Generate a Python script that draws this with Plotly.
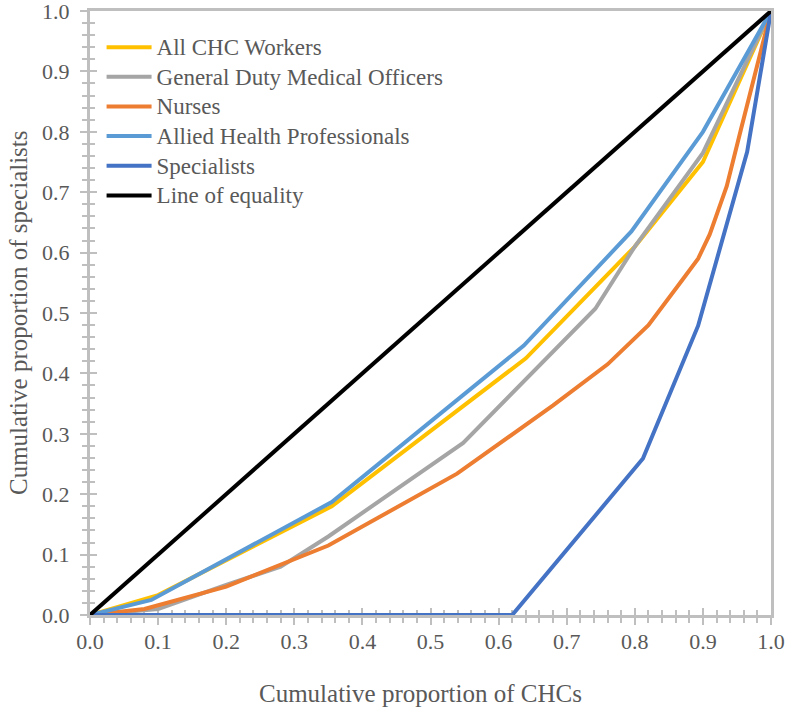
import plotly.graph_objects as go

# Data
all_x = [0, 0.10, 0.355, 0.64, 0.80, 0.90, 1.0]
all_y = [0, 0.033, 0.18, 0.425, 0.61, 0.75, 1.0]

gdmo_x = [0, 0.10, 0.20, 0.28, 0.35, 0.548, 0.742, 0.80, 0.90, 1.0]
gdmo_y = [0, 0.01, 0.05, 0.08, 0.13, 0.285, 0.507, 0.61, 0.765, 1.0]

nurse_x = [0, 0.08, 0.20, 0.28, 0.35, 0.539, 0.68, 0.76, 0.82, 0.87, 0.893, 0.91, 0.935, 0.955, 1.0]
nurse_y = [0, 0.01, 0.047, 0.083, 0.115, 0.234, 0.347, 0.415, 0.48, 0.555, 0.59, 0.63, 0.71, 0.80, 1.0]

ahp_x = [0, 0.09, 0.355, 0.637, 0.795, 0.90, 1.0]
ahp_y = [0, 0.025, 0.187, 0.446, 0.635, 0.80, 1.0]

spec_x = [0, 0.62, 0.812, 0.893, 0.965, 1.0]
spec_y = [0, 0, 0.259, 0.479, 0.767, 1.0]

eq_x = [0, 1.0]
eq_y = [0, 1.0]

tick_vals = [round(i * 0.1, 1) for i in range(11)]
tick_text = [f"{v:.1f}" for v in tick_vals]

x_title = "Cumulative proportion of CHCs"
y_title = "Cumulative proportion of specialists"

series = [
    ("All CHC Workers", all_x, all_y, "#FFC000"),
    ("General Duty Medical Officers", gdmo_x, gdmo_y, "#A5A5A5"),
    ("Nurses", nurse_x, nurse_y, "#ED7D31"),
    ("Allied Health Professionals", ahp_x, ahp_y, "#5B9BD5"),
    ("Specialists", spec_x, spec_y, "#4472C4"),
    ("Line of equality", eq_x, eq_y, "#000000"),
]

fig = go.Figure()
for name, xs, ys, col in series:
    fig.add_trace(go.Scatter(x=xs, y=ys, mode="lines", cliponaxis=False,
                             name=f"<span style='font-size:23px'>{name}</span>",
                             line=dict(color=col, width=4)))

axis_col = "#BFBFBF"
font_fam = "Liberation Serif"
text_col = "#595959"
common = dict(range=[0, 1], tickvals=tick_vals, ticktext=tick_text,
              showgrid=False, zeroline=False, showline=True, automargin=False,
              linecolor=axis_col, linewidth=3, mirror=True, layer="below traces",
              ticks="outside", ticklen=7, tickwidth=2, tickcolor=axis_col,
              ticklabeloverflow="allow",
              minor=dict(dtick=0.02, ticks="outside", ticklen=5, tickwidth=2,
                         tickcolor=axis_col, showgrid=False),
              tickfont=dict(family=font_fam, size=22, color=text_col))

inner = dict(range=[0, 1], showticklabels=False, automargin=False,
             showgrid=False, zeroline=False, showline=False, tickvals=tick_vals,
             layer="below traces",
             ticks="inside", ticklen=7, tickwidth=2, tickcolor=axis_col,
             minor=dict(dtick=0.02, ticks="inside", ticklen=5, tickwidth=2,
                        tickcolor=axis_col, showgrid=False))

fig.update_layout(
    width=787, height=708,
    margin=dict(l=90, r=16, t=11, b=93),
    paper_bgcolor="white", plot_bgcolor="white",
    showlegend=True,
    legend=dict(x=0.017, y=0.973, xanchor="left", yanchor="top",
                bgcolor="rgba(0,0,0,0)", itemwidth=45,
                font=dict(family=font_fam, size=20.5, color=text_col)),
    xaxis=dict(**common, ticklabelstandoff=-2),
    yaxis=dict(**common, ticklabelstandoff=6),
    xaxis2=dict(**inner, overlaying="x", matches="x"),
    yaxis2=dict(**inner, overlaying="y", matches="y"),
    annotations=[
        dict(text=x_title, xref="paper", yref="paper", x=0.5, y=0, yshift=-78,
             xshift=-10, xanchor="center", yanchor="middle", showarrow=False,
             font=dict(family=font_fam, size=25, color=text_col)),
        dict(text=y_title, xref="paper", yref="paper", x=0, y=0.5, xshift=-72,
             xanchor="center", yanchor="middle", showarrow=False, textangle=-90,
             font=dict(family=font_fam, size=25, color=text_col)),
    ],
)

# invisible trace to activate the secondary (inside-tick) axes
fig.add_trace(go.Scatter(x=[0], y=[0], xaxis="x2", yaxis="y2", mode="markers",
                         marker=dict(opacity=0), showlegend=False, hoverinfo="skip"))

fig.write_html("out.html", config={"displayModeBar": False},
               post_script="document.body.style.margin='0';document.body.style.overflow='hidden';")
